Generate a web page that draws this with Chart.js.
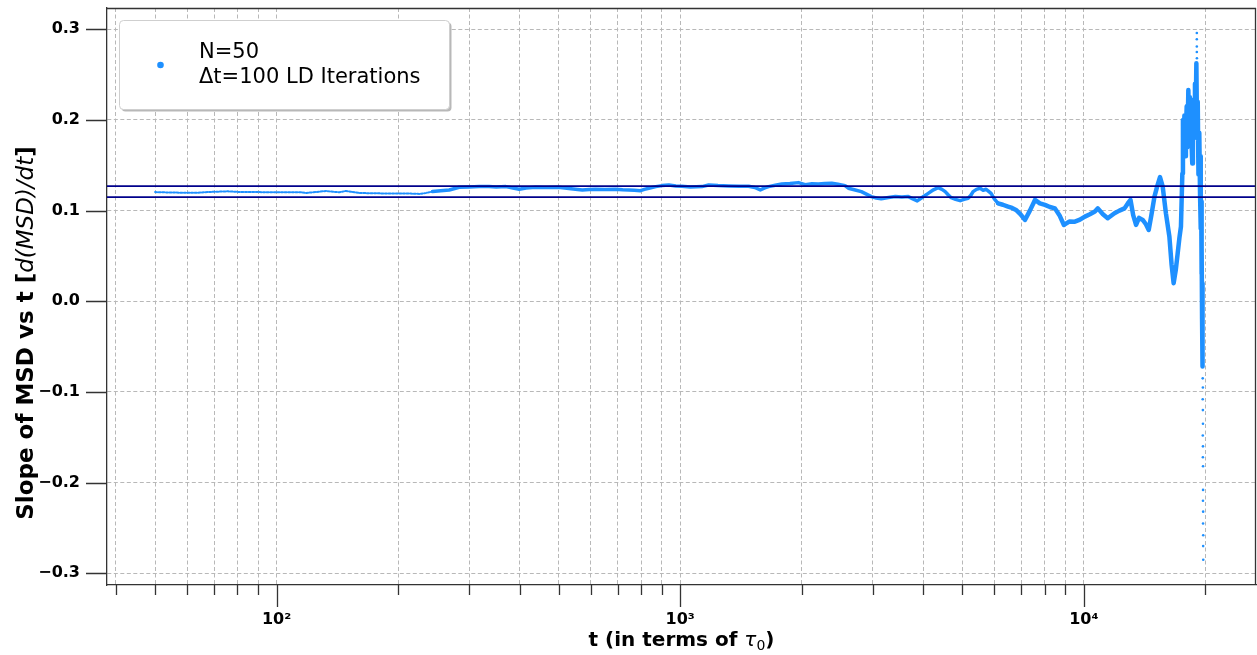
<!DOCTYPE html>
<html><head><meta charset="utf-8">
<script src="https://cdn.jsdelivr.net/npm/chart.js@4.4.1/dist/chart.umd.min.js"></script>
<style>html,body{margin:0;padding:0;background:#fff;}#wrap{width:1257px;height:655px;}</style>
</head><body><div id="wrap"><canvas id="c" width="1257" height="655"></canvas></div>
<script>
// ---- data ----
const tValues = [50,51,55,58.7,63.3,68.3,75.8,80,85.8,92,100,114,118.4,125,132.7,138,143.1,148.7,154,160.4,170,183.1,201.4,215,225.7,235,243.4,255,267.7,283.4,300,317.6,336,350,370,385,399,415,438,465,499,530,550,572,595,617,650,692,720,746,770,797,815,836,870,902,937,975,1010,1060,1132,1176,1240,1318,1400,1477,1530,1579,1620,1655,1720,1785,1870,1963,2040,2120,2200,2280,2373,2460,2561,2610,2700,2810,2900,2974,3060,3148,3280,3411,3540,3673,3770,3866,3990,4115,4240,4356,4450,4534,4610,4691,4810,4938,5050,5167,5250,5316,5420,5533,5630,5725,5800,5890,6000,6130,6300,6489,6640,6791,6970,7147,7350,7567,7780,8010,8240,8479,8700,8925,9200,9501,9780,10060,10350,10650,10830,11150,11460,11910,12250,12610,12850,13050,13250,13470,13700,13990,14250,14480,14700,14960,15200,15440,15680,15970,16290,16500,16690,16900,17080,17250,17400,17540,17600,17670,17750,17820,17900,17980,18050,18150,18250,18320,18420,18500,18560,18630,18700,18770,18850,18920,19000,19080,19150,19230,19320,19400,19460,19500,19530,19560,19600,19630,19660,19700];
const slopeValues = [0.1205,0.1203,0.1200,0.1197,0.1197,0.1206,0.1213,0.1207,0.1205,0.1204,0.1204,0.1204,0.1195,0.1205,0.1217,0.1208,0.1203,0.1217,0.1206,0.1195,0.1192,0.1190,0.1190,0.1188,0.1184,0.1196,0.1210,0.1220,0.1228,0.1258,0.1262,0.1265,0.1265,0.1262,0.1265,0.1250,0.1236,0.1250,0.1258,0.1255,0.1258,0.1243,0.1235,0.1228,0.1234,0.1236,0.1234,0.1236,0.1230,0.1228,0.1224,0.1220,0.1235,0.1247,0.1265,0.1276,0.1283,0.1272,0.1269,0.1262,0.1265,0.1283,0.1276,0.1272,0.1270,0.1269,0.1255,0.1228,0.1250,0.1265,0.1280,0.1294,0.1300,0.1309,0.1287,0.1296,0.1294,0.1300,0.1302,0.1290,0.1276,0.1247,0.1230,0.1210,0.1180,0.1155,0.1140,0.1130,0.1145,0.1155,0.1150,0.1155,0.1130,0.1107,0.1150,0.1190,0.1230,0.1254,0.1235,0.1210,0.1175,0.1143,0.1125,0.1110,0.1125,0.1137,0.1170,0.1210,0.1235,0.1247,0.1225,0.1236,0.1215,0.1190,0.1130,0.1080,0.1065,0.1044,0.1030,0.1008,0.0960,0.0897,0.1000,0.1118,0.1080,0.1063,0.1040,0.1025,0.0950,0.0842,0.0880,0.0878,0.0900,0.0934,0.0960,0.0990,0.1025,0.0960,0.0916,0.0971,0.1000,0.1025,0.1080,0.1120,0.0950,0.0842,0.0920,0.0897,0.0850,0.0787,0.0950,0.1155,0.1270,0.1370,0.1265,0.0971,0.0713,0.0400,0.0200,0.0350,0.0530,0.0700,0.0824,0.1410,0.2000,0.1800,0.2050,0.1600,0.1890,0.2150,0.1700,0.2330,0.1900,0.2250,0.2110,0.1700,0.1520,0.2000,0.2220,0.1900,0.2400,0.2000,0.2625,0.1800,0.2200,0.1400,0.1860,0.1200,0.1600,0.0800,0.1100,0.0300,0.0600,-0.0200,0.0200,-0.0720];
const endDotT = [19050,19050,19050,19050,19060,19700,19720,19700,19720,19730,19710,19730,19720,19740,19740,19730,19750,19740,19760,19750,19760];
const endDotSlope = [0.296,0.289,0.281,0.275,0.268,-0.085,-0.095,-0.108,-0.120,-0.135,-0.148,-0.160,-0.172,-0.182,-0.208,-0.220,-0.232,-0.245,-0.258,-0.270,-0.285];
const referenceLevels = [0.127, 0.115];
const xRange = [38, 26700];
const yRange = [-0.3129, 0.3235];
const xTickValues = [40,50,60,70,80,90,100,200,300,400,500,600,700,800,900,1000,2000,3000,4000,5000,6000,7000,8000,9000,10000,20000];
const xLabelValues = [100, 1000, 10000];
const xLabelTexts = ['10²', '10³', '10⁴'];
const yTickValues = [-0.3,-0.2,-0.1,0,0.1,0.2,0.3];
const yTickLabels = ['−0.3','−0.2','−0.1','0.0','0.1','0.2','0.3'];
const legendLines = ['N=50', 'Δt=100 LD Iterations'];
const xTitleParts = [['t (in terms of ','bold'],['τ','italic'],['0','sub'],[')','bold']];
const yTitleParts = [['Slope of MSD vs t [','bold'],['d(MSD)/dt','italic'],[']','bold']];

const CURVE = '#1e90ff', REF = '#00008b', AXIS = '#333333', GRID = '#b8b8b8';
const FAM = '"DejaVu Sans", sans-serif';

function fontFor(kind, size) {
  if (kind === 'bold') return 'bold ' + size + 'px ' + FAM;
  if (kind === 'italic') return 'italic ' + size + 'px ' + FAM;
  if (kind === 'sub') return size * 0.7 + 'px ' + FAM;
  return size + 'px ' + FAM;
}
function drawParts(ctx, parts, size, cx, baseline) {
  let total = 0;
  parts.forEach(p => { ctx.font = fontFor(p[1], size); total += ctx.measureText(p[0]).width; });
  let x = cx - total / 2;
  parts.forEach(p => {
    ctx.font = fontFor(p[1], size);
    ctx.fillText(p[0], x, baseline + (p[1] === 'sub' ? size * 0.22 : 0));
    x += ctx.measureText(p[0]).width;
  });
}
function rr(ctx, x, y, w, h, r) {
  ctx.beginPath();
  ctx.moveTo(x + r, y); ctx.lineTo(x + w - r, y); ctx.quadraticCurveTo(x + w, y, x + w, y + r);
  ctx.lineTo(x + w, y + h - r); ctx.quadraticCurveTo(x + w, y + h, x + w - r, y + h);
  ctx.lineTo(x + r, y + h); ctx.quadraticCurveTo(x, y + h, x, y + h - r);
  ctx.lineTo(x, y + r); ctx.quadraticCurveTo(x, y, x + r, y); ctx.closePath();
}
function zeroPad(s) { s.paddingTop = 0; s.paddingBottom = 0; s.paddingLeft = 0; s.paddingRight = 0; }

const decor = {
  id: 'decor',
  afterDraw(chart) {
    const ctx = chart.ctx, ca = chart.chartArea, xs = chart.scales.x, ys = chart.scales.y;
    ctx.save();
    // top & right spines
    ctx.strokeStyle = AXIS; ctx.lineWidth = 1.3;
    ctx.beginPath(); ctx.moveTo(ca.left, ca.top + 0.5); ctx.lineTo(ca.right, ca.top + 0.5);
    ctx.moveTo(ca.right - 0.5, ca.top); ctx.lineTo(ca.right - 0.5, ca.bottom); ctx.stroke();
    // tick marks
    ctx.beginPath();
    xTickValues.forEach(v => {
      const px = Math.round(xs.getPixelForValue(v)) + 0.5;
      const len = xLabelValues.includes(v) ? 22 : 10;
      ctx.moveTo(px, ca.bottom); ctx.lineTo(px, ca.bottom + len);
    });
    yTickValues.forEach(v => {
      const py = Math.round(ys.getPixelForValue(v)) + 0.5;
      ctx.moveTo(ca.left - 21, py); ctx.lineTo(ca.left, py);
    });
    ctx.stroke();
    // axis titles
    ctx.fillStyle = '#000'; ctx.textBaseline = 'alphabetic'; ctx.textAlign = 'left';
    drawParts(ctx, xTitleParts, 20, (ca.left + ca.right) / 2, 646);
    ctx.save();
    ctx.translate(33, 333); ctx.rotate(-Math.PI / 2);
    drawParts(ctx, yTitleParts, 23, 0, 0);
    ctx.restore();
    // legend
    ctx.fillStyle = 'rgba(0,0,0,0.28)'; rr(ctx, 121.5, 22.5, 330, 89, 4); ctx.fill();
    ctx.fillStyle = '#ffffff'; rr(ctx, 119.5, 20.5, 330, 89, 4); ctx.fill();
    ctx.strokeStyle = '#cfcfcf'; ctx.lineWidth = 1; ctx.stroke();
    ctx.fillStyle = CURVE; ctx.beginPath(); ctx.arc(160.5, 65, 3.3, 0, Math.PI * 2); ctx.fill();
    ctx.fillStyle = '#000'; ctx.font = '21px ' + FAM;
    ctx.fillText(legendLines[0], 199, 57.5);
    ctx.fillText(legendLines[1], 199, 83);
    ctx.restore();
  }
};

const curvePts = tValues.map((t, i) => ({ x: t, y: slopeValues[i] }));
const dotPts = endDotT.map((t, i) => ({ x: t, y: endDotSlope[i] }));
const refSets = referenceLevels.map(lv => ({
  data: [{ x: xRange[0], y: lv }, { x: xRange[1], y: lv }],
  showLine: true, borderColor: REF, borderWidth: 1.8, pointRadius: 0, order: 0
}));

new Chart(document.getElementById('c'), {
  type: 'scatter',
  data: {
    datasets: [
      ...refSets,
      { label: legendLines.join('\n'), data: curvePts, showLine: true, borderColor: CURVE, backgroundColor: CURVE,
        borderWidth: 3.5, pointRadius: 0, order: 1, borderJoinStyle: 'round', borderCapStyle: 'round',
        segment: {
          borderDash: c => c.p0.parsed.x < 240 ? [2, 1.6] : undefined,
          borderWidth: c => c.p0.parsed.x < 240 ? 2 : (c.p0.parsed.x > 6000 ? 4.5 : undefined)
        } },
      { data: dotPts, showLine: false, pointRadius: 1.3, pointBorderWidth: 0, backgroundColor: CURVE, borderColor: CURVE, order: 2 }
    ]
  },
  options: {
    responsive: false, animation: false,
    layout: { autoPadding: false, padding: { top: 8, right: 1, left: 0, bottom: 0 } },
    plugins: { legend: { display: false }, tooltip: { enabled: false } },
    scales: {
      x: {
        type: 'logarithmic', min: xRange[0], max: xRange[1],
        afterBuildTicks: s => { s.ticks = xTickValues.map(v => ({ value: v })); },
        afterFit: s => { s.height = 70; zeroPad(s); },
        ticks: {
          autoSkip: false, maxRotation: 0, padding: 25, color: '#000',
          font: { family: 'DejaVu Sans', weight: 'bold', size: 16 },
          callback: v => { const i = xLabelValues.indexOf(v); return i >= 0 ? xLabelTexts[i] : ''; }
        },
        grid: { color: GRID, lineWidth: 1, drawTicks: false },
        border: { display: true, color: AXIS, width: 1.3, dash: [4, 2.5] }
      },
      y: {
        min: yRange[0], max: yRange[1],
        afterBuildTicks: s => { s.ticks = yTickValues.map(v => ({ value: v })); },
        afterFit: s => { s.width = 107; zeroPad(s); },
        ticks: {
          padding: 27, color: '#000',
          font: { family: 'DejaVu Sans', weight: 'bold', size: 16 },
          callback: v => { const i = yTickValues.findIndex(t => Math.abs(t - v) < 1e-9); return i >= 0 ? yTickLabels[i] : ''; }
        },
        grid: { color: GRID, lineWidth: 1, drawTicks: false },
        border: { display: true, color: AXIS, width: 1.3, dash: [4, 2.5] }
      }
    }
  },
  plugins: [decor]
});
</script></body></html>
